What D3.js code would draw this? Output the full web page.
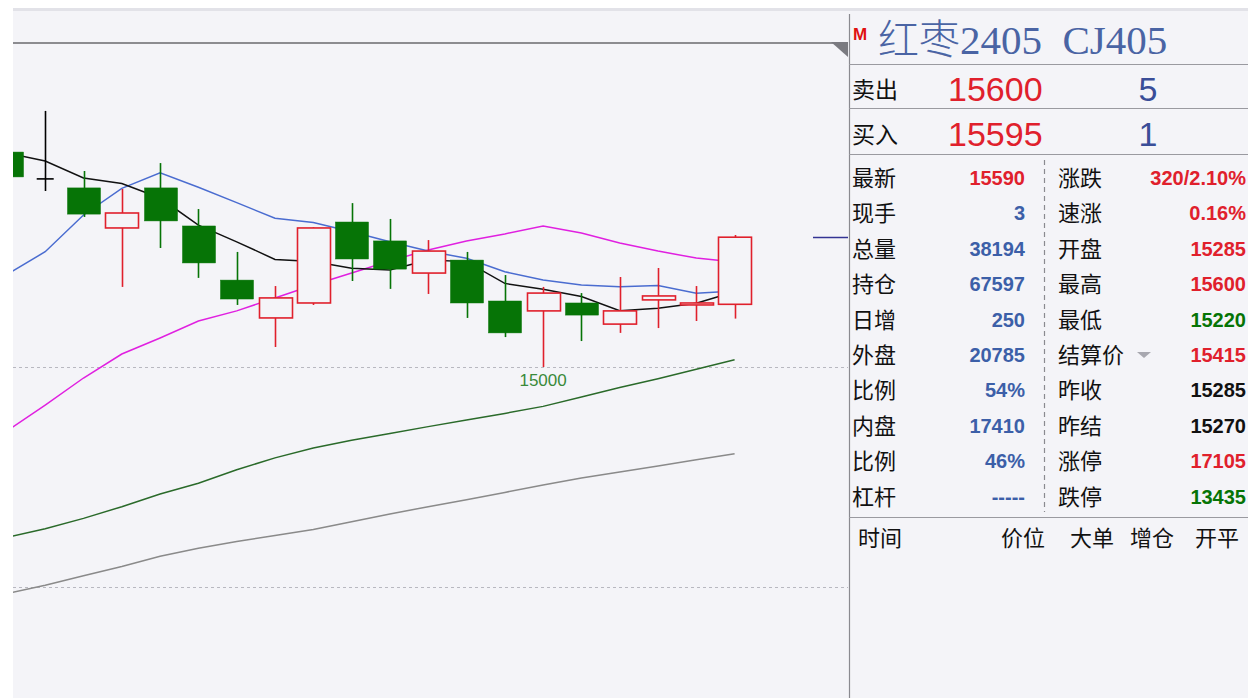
<!DOCTYPE html>
<html><head><meta charset="utf-8">
<script src="https://cdn.jsdelivr.net/npm/d3@7"></script>
<style>
body{margin:0;background:#fff;overflow:hidden}
svg{display:block}
</style>
</head><body>
<svg id="c" width="1248" height="698"></svg>
<script>
// ---------- data ----------
const opens  = [15977,15855,15814,15632,15814,15641,15395,15223,15291,15659,15573,15427,15486,15300,15255,15291,15195,15305,15282,15285];
const highs  = [15990,16164,15891,15809,15927,15718,15523,15368,15635,15745,15673,15577,15523,15418,15364,15336,15409,15450,15368,15600];
const lows   = [15850,15800,15682,15364,15541,15405,15282,15091,15282,15391,15355,15332,15223,15136,15000,15118,15155,15177,15209,15220];
const closes = [15864,15855,15695,15700,15664,15473,15309,15314,15632,15491,15445,15527,15291,15155,15336,15236,15255,15323,15291,15590];
const ma5  = [15973,15936,15859,15834,15768,15645,15569,15489,15479,15449,15441,15486,15479,15380,15353,15320,15256,15267,15290,15342];
const ma10 = [15421,15524,15691,15812,15883,15817,15747,15676,15657,15615,15569,15527,15494,15433,15395,15373,15365,15370,15335,15345];
const ma20 = [14709,14827,14950,15059,15132,15209,15255,15314,15373,15427,15482,15532,15573,15605,15641,15609,15564,15527,15495,15477];
const ma40 = [14225,14265,14312,14365,14423,14472,14533,14587,14632,14667,14698,14729,14759,14789,14821,14864,14907,14947,14990,15033];
const ma60 = [13970,14008,14051,14093,14140,14176,14207,14234,14261,14297,14332,14365,14397,14430,14464,14495,14523,14550,14578,14606];
const gridPrices = [15000, 14000];
const lowMarkLabel = "15000";

const titleMark = "M";
const titleText = "红枣2405  CJ405";
const quoteLabels = ["卖出", "买入"];
const quotePrices = ["15600", "15595"];
const quoteVolumes = ["5", "1"];
const leftLabels  = ["最新","现手","总量","持仓","日增","外盘","比例","内盘","比例","杠杆"];
const leftValues  = ["15590","3","38194","67597","250","20785","54%","17410","46%","-----"];
const rightLabels = ["涨跌","速涨","开盘","最高","最低","结算价","昨收","昨结","涨停","跌停"];
const rightValues = ["320/2.10%","0.16%","15285","15600","15220","15415","15285","15270","17105","13435"];
const tradeHeaders = ["时间","价位","大单","增仓","开平"];

// ---------- styles ----------
const RED = "#e0202c", GREEN = "#067406", BLUE_VAL = "#3c5fa8";
const leftValueColors  = [RED,BLUE_VAL,BLUE_VAL,BLUE_VAL,BLUE_VAL,BLUE_VAL,BLUE_VAL,BLUE_VAL,BLUE_VAL,BLUE_VAL];
const rightValueColors = [RED,RED,RED,RED,GREEN,RED,"#111","#111",RED,GREEN];
const BG = "#f4f4f8";

const svg = d3.select("#c");
svg.append("rect").attr("width",1248).attr("height",698).attr("fill","#fff");
svg.append("rect").attr("x",13).attr("y",8).attr("width",1235).attr("height",690).attr("fill",BG);
svg.append("rect").attr("x",13).attr("y",8).attr("width",1235).attr("height",3).attr("fill","#e2e2e8");

// ---------- chart ----------
const chartL = 13, chartR = 848, chartT = 44, chartB = 698;
const x = d3.scaleLinear().domain([0, 19]).range([6.9, 734.6]);
const y = d3.scaleLinear().domain([14000, 15000]).range([587, 367]);
const idx = d3.range(closes.length);

svg.append("clipPath").attr("id","clip").append("rect")
  .attr("x",chartL).attr("y",chartT).attr("width",chartR-chartL).attr("height",chartB-chartT);
const g = svg.append("g").attr("clip-path","url(#clip)");

// grid
g.selectAll("line.grid").data(gridPrices).join("line")
  .attr("x1",chartL).attr("x2",chartR)
  .attr("y1",d=>Math.round(y(d))+0.5).attr("y2",d=>Math.round(y(d))+0.5)
  .attr("stroke","#b8b8c0").attr("stroke-width",1).attr("stroke-dasharray","3,3");

// MA lines
const line = arr => d3.line().x((d,i)=>x(i)).y(d=>y(d))(arr);
[[ma60,"#8a8a8a"],[ma40,"#2a6a2a"],[ma20,"#e020e0"],[ma10,"#4a6cd0"],[ma5,"#111"]].forEach(([arr,col])=>{
  g.append("path").attr("d",line(arr)).attr("fill","none").attr("stroke",col).attr("stroke-width",1.5);
});

// candles
const bw = 33;
const cColor = i => closes[i] > opens[i] ? RED : (closes[i] < opens[i] ? GREEN : "#000");
const cg = g.selectAll("g.candle").data(idx).join("g");
cg.append("line")
  .attr("x1",i=>Math.round(x(i))+0.5).attr("x2",i=>Math.round(x(i))+0.5)
  .attr("y1",i=>y(highs[i])).attr("y2",i=>y(lows[i]))
  .attr("stroke",cColor).attr("stroke-width",1.6);
cg.filter(i=>closes[i]!==opens[i]).append("rect")
  .attr("x",i=>Math.round(x(i)-bw/2)+0.5)
  .attr("y",i=>y(Math.max(opens[i],closes[i])))
  .attr("width",bw)
  .attr("height",i=>Math.max(1,Math.abs(y(opens[i])-y(closes[i]))))
  .attr("fill",i=>closes[i]>opens[i]?BG:GREEN)
  .attr("stroke",cColor).attr("stroke-width",i=>closes[i]>opens[i]?1.6:0.5);
cg.filter(i=>closes[i]===opens[i]).append("line")
  .attr("x1",i=>x(i)-bw/2+8).attr("x2",i=>x(i)+bw/2-8)
  .attr("y1",i=>y(closes[i])).attr("y2",i=>y(closes[i]))
  .attr("stroke","#000").attr("stroke-width",1.6);

// low marker label
const lowIdx = d3.minIndex(lows);
g.append("text").attr("x",x(lowIdx)).attr("y",y(lows[lowIdx])+19)
  .attr("text-anchor","middle").attr("font-family","Liberation Sans Narrow, Liberation Sans, Arial")
  .attr("font-size",17).attr("fill","#3a8a3a").text(lowMarkLabel);

// current price marker
svg.append("line").attr("x1",813).attr("x2",848)
  .attr("y1",Math.round(y(closes[19]))+0.5).attr("y2",Math.round(y(closes[19]))+0.5)
  .attr("stroke","#343494").attr("stroke-width",1.4);

// top border of chart + corner triangle
svg.append("line").attr("x1",chartL).attr("x2",835).attr("y1",43).attr("y2",43)
  .attr("stroke","#8c8c90").attr("stroke-width",2);
svg.append("path").attr("d","M831,42 L848,42 L848,57 Z").attr("fill","#7a7a80");

// ---------- right panel ----------
const P = 849;
svg.append("line").attr("x1",P+0.5).attr("x2",P+0.5).attr("y1",14).attr("y2",698)
  .attr("stroke","#8a8a90").attr("stroke-width",1.2);
[64,108,154,517].forEach(yy=>{
  svg.append("line").attr("x1",P).attr("x2",1248).attr("y1",yy+0.5).attr("y2",yy+0.5)
    .attr("stroke","#9a9aa0").attr("stroke-width",1.2);
});

const CJK = "'Noto Sans CJK SC', 'Noto Sans', sans-serif";
const NUM = "'Liberation Sans', Arial, sans-serif";

svg.append("text").attr("x",853).attr("y",40).attr("font-family",NUM).attr("font-weight","bold")
  .attr("font-size",17).attr("fill","#e01010").text(titleMark);
svg.append("text").attr("x",878).attr("y",54).attr("font-family","'Liberation Serif', 'DejaVu Serif', "+CJK)
  .attr("font-size",41).attr("fill","#4a64a4").attr("font-weight",300).text(titleText).attr("style","white-space:pre");

// quote rows
const qY = [100, 145];
quoteLabels.forEach((t,i)=>{
  svg.append("text").attr("x",852).attr("y",qY[i]-2).attr("font-family",CJK).attr("font-size",23).attr("fill","#111").text(t);
  svg.append("text").attr("x",948).attr("y",qY[i]+1).attr("font-family",NUM).attr("font-size",34).attr("fill",RED).text(quotePrices[i]);
  svg.append("text").attr("x",1148).attr("y",qY[i]+1).attr("text-anchor","middle").attr("font-family",NUM).attr("font-size",34).attr("fill","#3a4e98").text(quoteVolumes[i]);
});

// stats rows
const rowY = i => 186 + i*35.4;
leftLabels.forEach((t,i)=>{
  svg.append("text").attr("x",852).attr("y",rowY(i)).attr("font-family",CJK).attr("font-size",22).attr("fill","#111").text(t);
  svg.append("text").attr("x",1025).attr("y",rowY(i)-1).attr("text-anchor","end").attr("font-family",NUM).attr("font-weight","bold")
    .attr("font-size",20).attr("fill",leftValueColors[i]).text(leftValues[i]);
});
rightLabels.forEach((t,i)=>{
  svg.append("text").attr("x",1058).attr("y",rowY(i)).attr("font-family",CJK).attr("font-size",22).attr("fill","#111").text(t);
  svg.append("text").attr("x",1246).attr("y",rowY(i)-1).attr("text-anchor","end").attr("font-family",NUM).attr("font-weight","bold")
    .attr("font-size",20).attr("fill",rightValueColors[i]).text(rightValues[i]);
});
// small dropdown triangle next to 结算价
svg.append("path").attr("d",`M1137,${rowY(5)-11} L1151,${rowY(5)-11} L1144,${rowY(5)-5} Z`).attr("fill","#a8a8b0");
// dashed separator
svg.append("line").attr("x1",1044.5).attr("x2",1044.5).attr("y1",160).attr("y2",512)
  .attr("stroke","#8a8a90").attr("stroke-width",1.2).attr("stroke-dasharray","5,4");

// trade list header
const thX = [858, 1001, 1070, 1130, 1195];
tradeHeaders.forEach((t,i)=>{
  svg.append("text").attr("x",thX[i]).attr("y",546).attr("font-family",CJK).attr("font-size",22).attr("fill","#111").text(t);
});
</script>
</body></html>
